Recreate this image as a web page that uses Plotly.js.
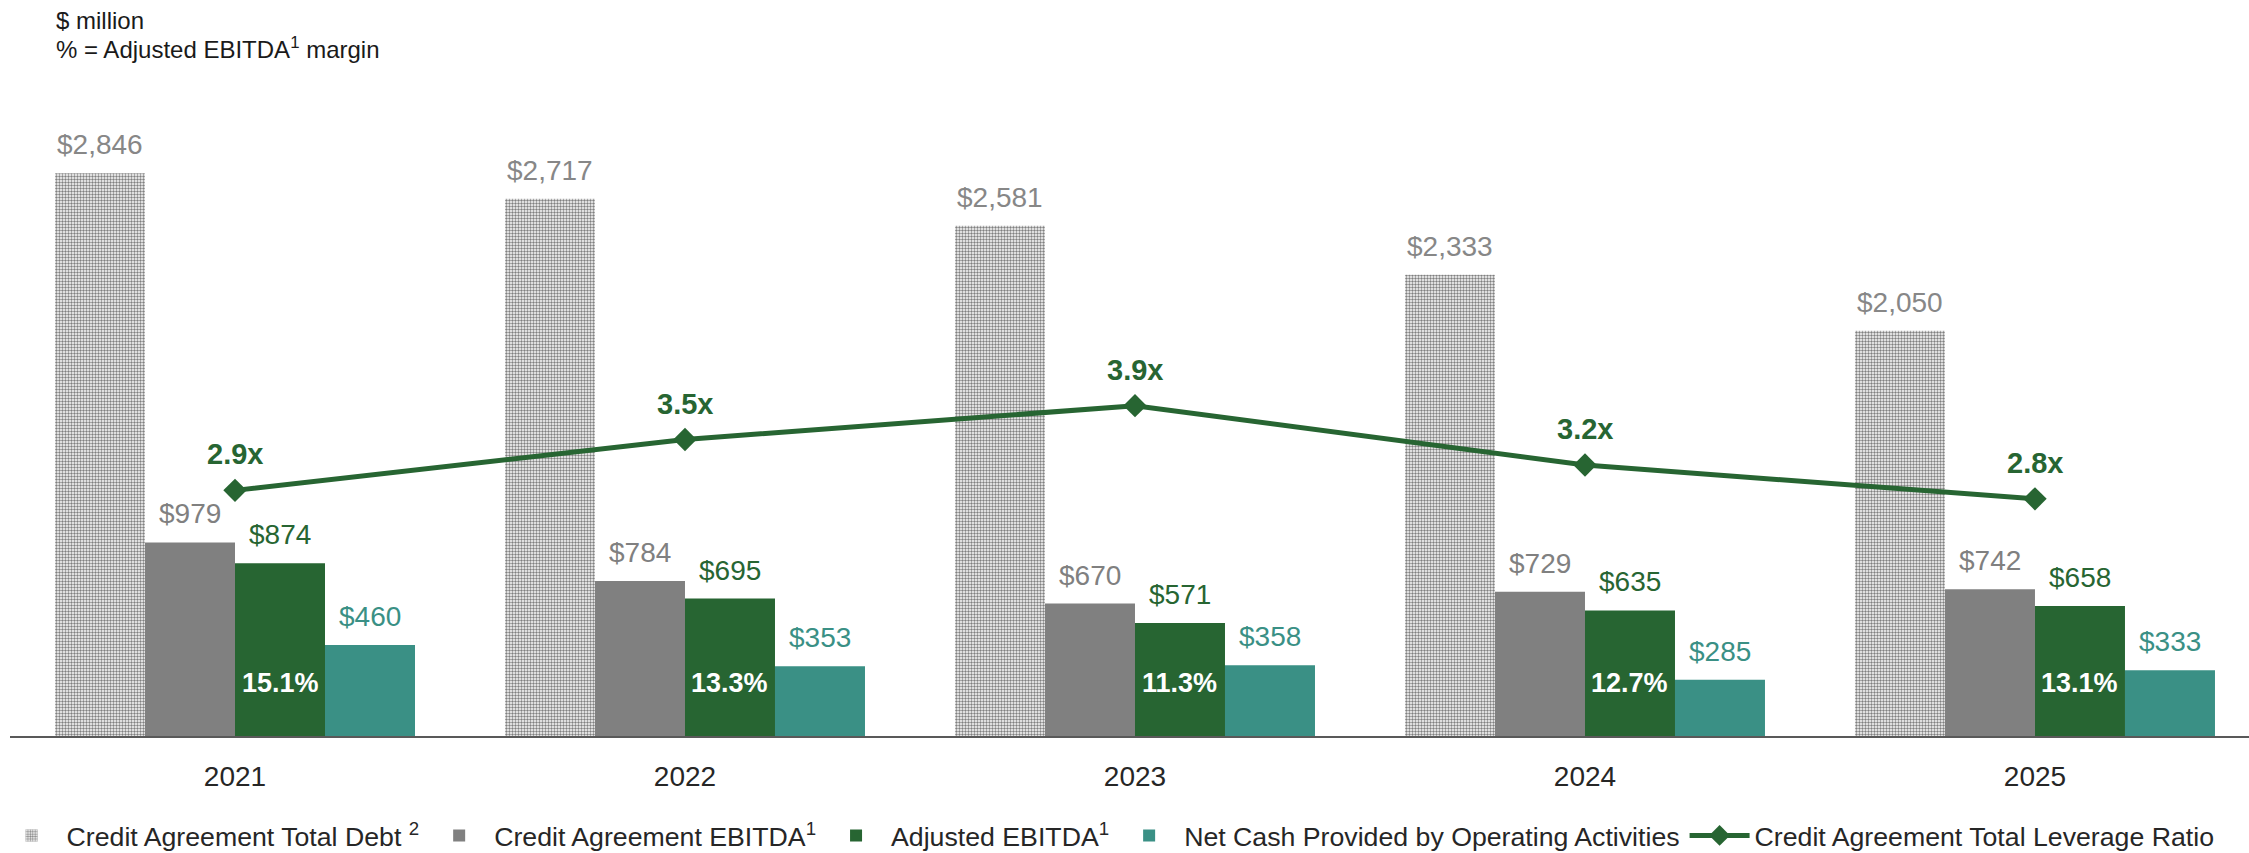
<!DOCTYPE html>
<html>
<head>
<meta charset="utf-8">
<script src="https://cdn.plot.ly/plotly-3.0.1.min.js"></script>
<style>
  html, body { margin: 0; padding: 0; background: #fff; }
  #chart { width: 2249px; height: 853px; }
</style>
</head>
<body>
<div id="chart"></div>
<script>
// data
var years = ['2021', '2022', '2023', '2024', '2025'];
var totalDebt = [2846, 2717, 2581, 2333, 2050];
var creditEbitda = [979, 784, 670, 729, 742];
var adjEbitda = [874, 695, 571, 635, 658];
var netCash = [460, 353, 358, 285, 333];
var leverage = [2.9, 3.5, 3.9, 3.2, 2.8];
var ebitdaMargin = [15.1, 13.3, 11.3, 12.7, 13.1];

var FONT = 'Liberation Sans, Arial, sans-serif';
var GREEN = '#276532';
var GREY = '#808080';
var TEAL = '#3a9085';
var DEBT_TXT = '#878787';

function dollars(v) {
    return '$' + v.toLocaleString('en-US');
}

var data = [{
    name: 'Credit Agreement Total Debt <sup>2</sup>',
    type: 'bar',
    x: years,
    y: totalDebt,
    marker: {
        color: '#ffffff',
        pattern: { shape: '.', size: 3, solidity: 0.5, fgcolor: '#808080', bgcolor: '#ffffff', fillmode: 'replace' },
        line: { width: 0 }
    },
    hoverinfo: 'skip'
}, {
    name: 'Credit Agreement EBITDA<sup>1</sup>',
    type: 'bar',
    x: years,
    y: creditEbitda,
    marker: { color: GREY, line: { width: 0 } },
    hoverinfo: 'skip'
}, {
    name: 'Adjusted EBITDA<sup>1</sup>',
    type: 'bar',
    x: years,
    y: adjEbitda,
    marker: { color: GREEN, line: { width: 0 } },
    hoverinfo: 'skip'
}, {
    name: 'Net Cash Provided by Operating Activities',
    type: 'bar',
    x: years,
    y: netCash,
    marker: { color: TEAL, line: { width: 0 } },
    hoverinfo: 'skip'
}, {
    name: 'Credit Agreement Total Leverage Ratio',
    type: 'scatter',
    mode: 'lines+markers',
    x: years,
    y: leverage,
    yaxis: 'y2',
    line: { color: GREEN, width: 5 },
    marker: { symbol: 'diamond', size: 18, color: GREEN },
    cliponaxis: false,
    hoverinfo: 'skip'
}];

// value labels
var annotations = [];
var barSeries = [
    { vals: totalDebt, color: DEBT_TXT },
    { vals: creditEbitda, color: GREY },
    { vals: adjEbitda, color: GREEN },
    { vals: netCash, color: TEAL }
];
barSeries.forEach(function (s, k) {
    var off = (k - 1.5) * 0.2;
    s.vals.forEach(function (v, i) {
        annotations.push({
            x: i + off, y: v, xref: 'x', yref: 'y',
            text: dollars(v), showarrow: false,
            yanchor: 'bottom', yshift: 11,
            font: { family: FONT, size: 28, color: s.color }
        });
    });
});

ebitdaMargin.forEach(function (m, i) {
    annotations.push({
        x: i + 0.1, y: 0, xref: 'x', yref: 'y',
        text: '<b>' + m.toFixed(1) + '%</b>', showarrow: false,
        yanchor: 'middle', yshift: 53,
        font: { family: FONT, size: 27, color: '#ffffff' }
    });
});

leverage.forEach(function (v, i) {
    annotations.push({
        x: i, y: v, xref: 'x', yref: 'y2',
        text: '<b>' + v.toFixed(1) + 'x</b>', showarrow: false,
        yanchor: 'bottom', yshift: 18,
        font: { family: FONT, size: 29, color: GREEN }
    });
});

// header notes
annotations.push({
    xref: 'paper', yref: 'paper', x: 0.0195, y: 1.0287,
    xanchor: 'left', yanchor: 'middle', showarrow: false,
    text: '$ million',
    font: { family: FONT, size: 24, color: '#1a1a1a' }
});
annotations.push({
    xref: 'paper', yref: 'paper', x: 0.0195, y: 0.9885,
    xanchor: 'left', yanchor: 'middle', showarrow: false,
    text: '% = Adjusted EBITDA<sup>1</sup> margin',
    font: { family: FONT, size: 24, color: '#1a1a1a' }
});

var layout = {
    width: 2249,
    height: 853,
    paper_bgcolor: '#ffffff',
    plot_bgcolor: '#ffffff',
    font: { family: FONT, size: 26, color: '#262626' },
    barmode: 'group',
    bargap: 0.2,
    bargroupgap: 0,
    margin: { l: 10, r: 0, t: 40, b: 117, pad: 0, autoexpand: false },
    xaxis: {
        type: 'category',
        range: [-0.5, 4.4756],
        showline: true,
        linecolor: '#595959',
        linewidth: 2,
        showgrid: false,
        zeroline: false,
        ticks: '',
        ticklabelstandoff: 14,
        tickfont: { family: FONT, size: 28, color: '#262626' },
        fixedrange: true
    },
    yaxis: {
        range: [0, 3520],
        visible: false,
        showgrid: false,
        zeroline: false,
        fixedrange: true
    },
    yaxis2: {
        range: [0, 8.217],
        overlaying: 'y',
        side: 'right',
        visible: false,
        showgrid: false,
        zeroline: false,
        fixedrange: true
    },
    showlegend: true,
    legend: {
        orientation: 'h',
        x: -0.006,
        xanchor: 'left',
        y: -0.143,
        yanchor: 'middle',
        font: { family: FONT, size: 26.7, color: '#262626' },
        itemwidth: 60,
        traceorder: 'normal',
        bgcolor: 'rgba(0,0,0,0)'
    },
    annotations: annotations
};

var config = { displayModeBar: false, staticPlot: true };

Plotly.newPlot('chart', data, layout, config);
</script>
</body>
</html>
